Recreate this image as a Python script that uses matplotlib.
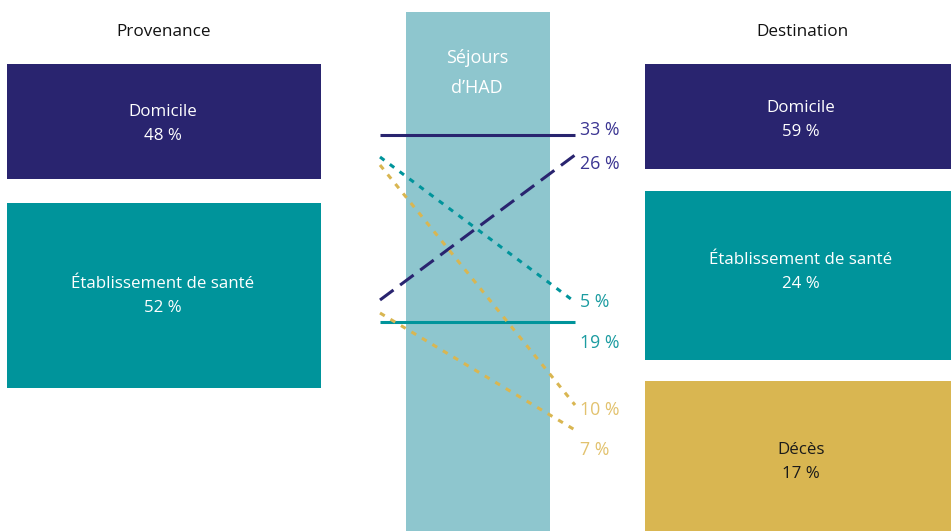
import matplotlib.pyplot as plt
from matplotlib.patches import Rectangle

# data
origins = ['Domicile', 'Établissement de santé']
origin_pct = [48, 52]
destinations = ['Domicile', 'Établissement de santé', 'Décès']
dest_pct = [59, 24, 17]
# flows: (origin index, destination index, percent)
flow_from = [0, 1, 0, 1, 0, 1]
flow_to = [0, 0, 1, 1, 2, 2]
flow_pct = [33, 26, 5, 19, 10, 7]

navy = '#29246f'
teal = '#00949b'
gold = '#d9b651'
mid_col = '#8ec6ce'
dest_colors = [navy, teal, gold]
dest_text = ['white', 'white', '#1a1a1a']
label_colors = ['#3b3592', '#1c9ca1', '#e2c26e']

plt.rcParams['font.family'] = ['Open Sans', 'DejaVu Sans']

fig = plt.figure(figsize=(9.51, 5.31), dpi=100)
ax = fig.add_axes([0, 0, 1, 1])
ax.set_xlim(0, 951)
ax.set_ylim(531, 0)
ax.axis('off')

# layout (pixels)
left_boxes = [(64, 179), (203, 388)]
left_text_y = [124.5, 296.5]
right_boxes = [(64, 169), (191, 360), (381, 531)]
right_text_y = [119.5, 272.5, 462]
x_start, x_end = 380, 575
# y positions of line ends for each flow
y_start = [135, 300, 157, 322, 165, 313]
y_end = [135, 155, 302, 322, 405, 430]
label_y = [130, 164, 302, 343, 410, 450]
dot = (0, (1.8, 2.2))
styles = ['-', (0, (5.5, 2.7)), dot, '-', dot, dot]

fs = 12.2

# middle column
ax.add_patch(Rectangle((406, 12), 144, 531 - 12, color=mid_col, lw=0))
ax.text(477, 58, 'Séjours', color='white', ha='center', va='center', fontsize=13)
ax.text(477, 88, 'd\u2019HAD', color='white', ha='center', va='center', fontsize=13)

ax.text(164, 32, 'Provenance', ha='center', va='center', fontsize=12.3, color='#111111')
ax.text(802, 32, 'Destination', ha='center', va='center', fontsize=12.3, color='#111111')

for i, (name, p) in enumerate(zip(origins, origin_pct)):
    top, bot = left_boxes[i]
    ax.add_patch(Rectangle((7, top), 314, bot - top, color=dest_colors[i], lw=0))
    cy = left_text_y[i]
    ax.text(163, cy - 12, name, color='white', ha='center', va='center', fontsize=fs)
    ax.text(163, cy + 12, f'{p} %', color='white', ha='center', va='center', fontsize=fs)

for i, (name, p) in enumerate(zip(destinations, dest_pct)):
    top, bot = right_boxes[i]
    ax.add_patch(Rectangle((645, top), 306, bot - top, color=dest_colors[i], lw=0))
    cy = right_text_y[i]
    ax.text(801, cy - 12, name, color=dest_text[i], ha='center', va='center', fontsize=fs)
    ax.text(801, cy + 12, f'{p} %', color=dest_text[i], ha='center', va='center', fontsize=fs)

for k in range(len(flow_pct)):
    c = dest_colors[flow_to[k]]
    ax.plot([x_start, x_end], [y_start[k], y_end[k]], color=c, lw=2.2,
            linestyle=styles[k], solid_capstyle='butt', dash_capstyle='butt')
    ax.text(580, label_y[k], f'{flow_pct[k]} %', color=label_colors[flow_to[k]],
            ha='left', va='center', fontsize=12.8)

fig.savefig('out.png', dpi=100)
